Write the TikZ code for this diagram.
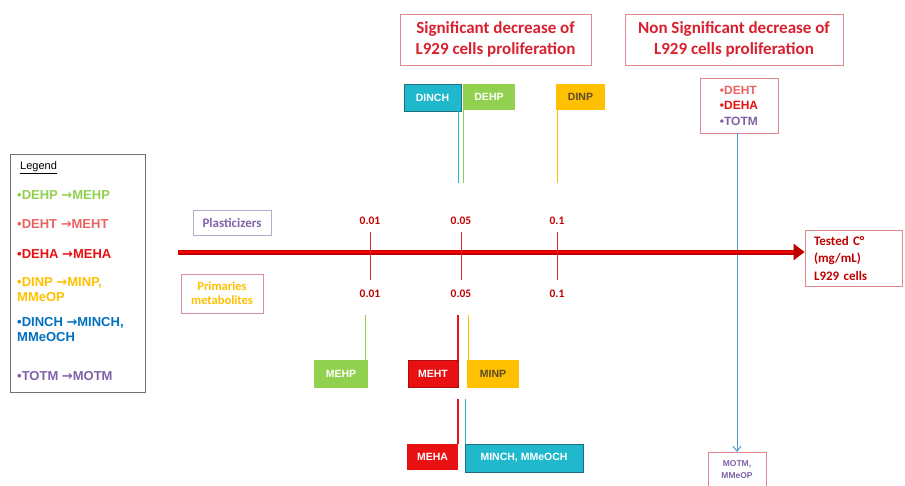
\documentclass[tikz,border=0pt]{standalone}
\usepackage{fontspec}
\setmainfont{Carlito}
\newfontfamily\arialf{Liberation Sans}
\newfontfamily\djvf{DejaVu Sans}
\usetikzlibrary{arrows.meta}
\definecolor{cgreen}{HTML}{92D050}
\definecolor{cteal}{HTML}{1FB8CD}
\definecolor{cdteal}{HTML}{1F6E80}
\definecolor{corange}{HTML}{FFC000}
\definecolor{cred}{HTML}{E81010}
\definecolor{ctitle}{HTML}{D9202F}
\definecolor{cdred}{HTML}{C00000}
\definecolor{cpink}{HTML}{E3868E}
\definecolor{csalmon}{HTML}{EB6464}
\definecolor{cblue}{HTML}{0070C0}
\definecolor{cpurple}{HTML}{7F63A8}
\definecolor{cbline}{HTML}{4A9ACB}
\definecolor{cgray}{HTML}{707070}
\definecolor{cdtext}{HTML}{5A4A2A}
\definecolor{cplbox}{HTML}{B8A8D0}
\newcommand{\bul}{•}
\newcommand{\arr}{{\djvf\bfseries →}}
\begin{document}
\begin{tikzpicture}[x=1pt,y=-1pt,
  leg/.style={anchor=west,inner sep=0,align=left,font=\arialf\bfseries\fontsize{13}{15}\selectfont},
  title/.style={draw=cpink,line width=0.8pt,inner sep=0,align=center,text=ctitle,font=\bfseries\fontsize{17}{21}\selectfont},
  cbox/.style={inner sep=0,font=\arialf\bfseries\fontsize{10.5}{12}\selectfont},
  ticklab/.style={inner sep=0,text=cdred,font=\bfseries\fontsize{11.5}{13}\selectfont},
  tickline/.style={ctitle,line width=1pt}]
\useasboundingbox (0,0) rectangle (905,485);
\fill[white] (0,0) rectangle (905,485);

% legend
\node[draw=cgray,line width=0.8pt,minimum width=135,minimum height=238,anchor=north west,inner sep=0] (legend) at (10,154) {};
\node[anchor=west,inner sep=0,font=\arialf\fontsize{11}{12}\selectfont] (leghead) at (20,168) {\underline{Legend}};
\node[leg,text=cgreen] (l1) at (17,195) {\bul DEHP \arr MEHP};
\node[leg,text=csalmon] (l2) at (17,224) {\bul DEHT \arr MEHT};
\node[leg,text=cred] (l3) at (17,254) {\bul DEHA \arr MEHA};
\node[leg,text=corange] (l4) at (17,290) {\bul DINP \arr MINP,\\MMeOP};
\node[leg,text=cblue] (l5) at (17,330) {\bul DINCH \arr MINCH,\\MMeOCH};
\node[leg,text=cpurple] (l6) at (17,376) {\bul TOTM \arr MOTM};

% titles
\node[title,minimum width=191,minimum height=51] (sig) at (495.5,39.5) {Significant decrease of\\L929 cells proliferation};
\node[title,minimum width=218,minimum height=51] (nsig) at (734,39.5) {Non Significant decrease of\\L929 cells proliferation};

% top plasticizer boxes
\node[cbox,fill=cteal,draw=cdteal,line width=0.8pt,text=white,minimum width=57,minimum height=27] (dinch) at (432.5,97.5) {DINCH};
\node[cbox,fill=cgreen,text=white,minimum width=52,minimum height=26] (dehp) at (489,97) {DEHP};
\node[cbox,fill=corange,text=cdtext,minimum width=49,minimum height=26] (dinp) at (580.5,97) {DINP};
\coordinate (e1) at (458,183);
\coordinate (e2) at (463.5,183);
\coordinate (e3) at (557.5,183);
\draw[cteal,line width=0.8pt] (e1 |- dinch.south) -- (e1);
\draw[cgreen,line width=0.8pt] (e2 |- dehp.south) -- (e2);
\draw[corange,line width=0.8pt] (e3 |- dinp.south) -- (e3);

% non significant box
\node[draw=cpink,line width=0.8pt,minimum width=78,minimum height=55,inner sep=0,align=left,font=\arialf\bfseries\fontsize{12}{15.5}\selectfont] (nsbox) at (739,105.5)
  {\textcolor{csalmon}{\bul DEHT}\\\textcolor{cred}{\bul DEHA}\\\textcolor{cpurple}{\bul TOTM}};
\node[draw=cpink,line width=0.8pt,minimum width=58,minimum height=40,inner sep=0,anchor=north,align=center,text=cpurple,font=\arialf\bfseries\fontsize{8.5}{12}\selectfont,text depth=6pt] (motm) at (737,452) {MOTM,\\MMeOP};
\draw[cbline,line width=1pt,-{Straight Barb[length=5pt,width=8pt]}] (nsbox.south -| motm.north) -- (motm.north);

% axis
\node[draw=cpink,line width=0.8pt,inner xsep=9pt,inner ysep=0,text width=79pt,minimum height=56,align=left,text=cdred,font=\bfseries\fontsize{13}{17.5}\selectfont] (tested) at (853.5,258) {Tested C°\\(mg/mL)\\L929 cells};
\coordinate (ax0) at (178,252);
\draw[cdred,line width=5pt,-{Triangle[length=11pt,width=16pt]}] (ax0) -- (ax0 -| tested.west);
\draw[red,line width=1.6pt] (ax0) -- ([xshift=-12pt]ax0 -| tested.west);

% ticks
\foreach \n/\x/\v in {a/370/0.01,b/461/0.05,c/557/0.1}{
  \node[ticklab] (p\n) at (\x,221) {\v};
  \node[ticklab] (m\n) at (\x,294) {\v};
  \coordinate (k\n1) at (\x,232);
  \coordinate (k\n2) at (\x,280);
  \draw[tickline] (k\n1) -- (k\n2);
}

% row labels
\node[draw=cplbox,line width=0.8pt,minimum width=78,minimum height=25,inner sep=0,text=cpurple,font=\bfseries\fontsize{13}{14}\selectfont] (plast) at (232,222.5) {Plasticizers};
\node[draw=cpink!70!cplbox,line width=0.8pt,minimum width=82,minimum height=39,inner sep=0,align=center,text=corange,font=\bfseries\fontsize{12.5}{14}\selectfont] (prim) at (222,293.5) {Primaries\\metabolites};

% metabolite boxes
\node[cbox,fill=cgreen,text=white,minimum width=54,minimum height=28] (mehp) at (341,374) {MEHP};
\node[cbox,fill=cred,draw=cred!75!black,line width=0.6pt,text=white,minimum width=50,minimum height=27] (meht) at (433,373.5) {MEHT};
\node[cbox,fill=corange,text=cdtext,minimum width=52,minimum height=28] (minp) at (493,374) {MINP};
\node[cbox,fill=cred,text=white,minimum width=51,minimum height=26] (meha) at (432.5,457) {MEHA};
\node[cbox,fill=cteal,draw=cdteal,line width=0.8pt,text=white,minimum width=118,minimum height=28] (minch) at (524,458) {MINCH, MMeOCH};
\coordinate (q1) at (365,315);
\coordinate (q2) at (458,315);
\coordinate (q3) at (468,315);
\coordinate (q4) at (458,399);
\coordinate (q5) at (465,399);
\draw[cgreen,line width=0.8pt] (q1) -- (q1 |- mehp.north);
\draw[cred,line width=1.5pt] (q2) -- (q2 |- meht.north);
\draw[corange,line width=0.8pt] (q3) -- (q3 |- minp.north);
\draw[cred,line width=1.5pt] (q4) -- (q4 |- meha.north);
\draw[cteal,line width=0.8pt] (q5) -- (q5 |- minch.north);
\end{tikzpicture}
\end{document}
